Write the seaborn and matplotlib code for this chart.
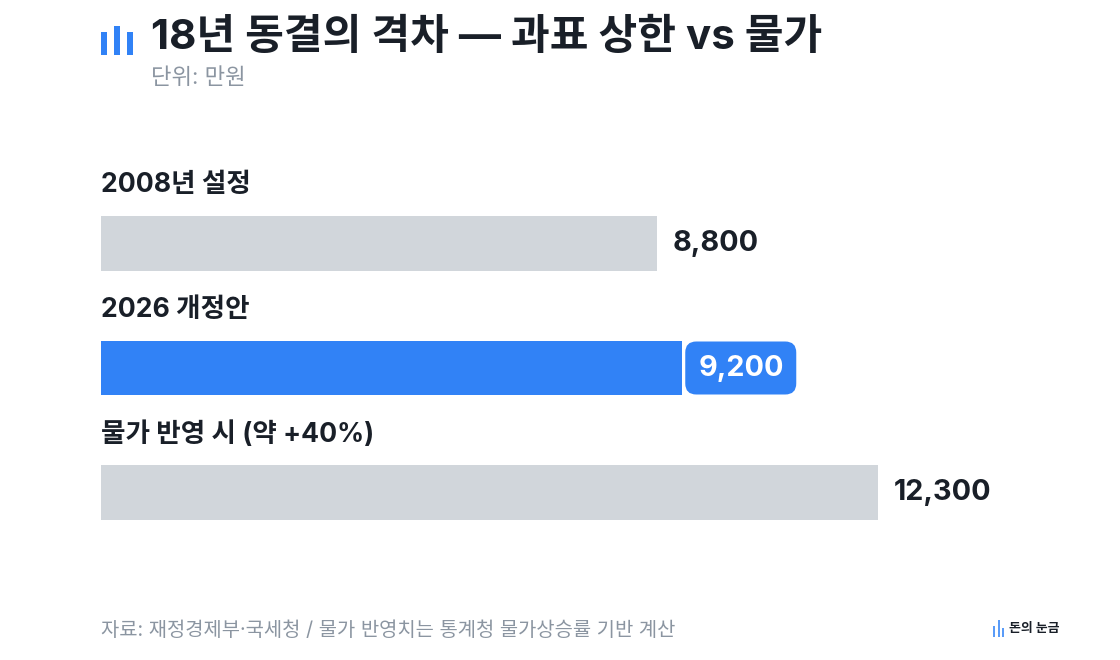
import pandas as pd
import matplotlib.pyplot as plt
import seaborn as sns
from matplotlib.patches import FancyBboxPatch, Rectangle
from matplotlib.transforms import IdentityTransform

labels = ['2008년 설정', '2026 개정안', '물가 반영 시 (약 +40%)']
values = [8800, 9200, 12300]
value_text = ['8,800', '9,200', '12,300']
bar_colors = ['#d1d6db', '#3182f6', '#d1d6db']

title = '18년 동결의 격차 — 과표 상한 vs 물가'
subtitle = '단위: 만원'
source = '자료: 재정경제부·국세청 / 물가 반영치는 통계청 물가상승률 기반 계산'
brand = '돈의 눈금'

INK = '#191f28'
GREY = '#8b95a1'
BLUE = '#3182f6'
W, H = 1120, 660

sns.set_theme(style='white')
plt.rcParams['font.family'] = ['Inter', 'Noto Sans CJK KR', 'DejaVu Sans']

df = pd.DataFrame({'label': labels, 'value': values})

fig = plt.figure(figsize=(W / 100, H / 100), dpi=100, facecolor='white')
# axes box in pixels: x 101..1019, y 181..555
ax = fig.add_axes([101 / W, 1 - 555 / H, 918 / W, 374 / H])
sns.barplot(data=df, y='label', x='value', hue='label', palette=bar_colors,
            legend=False, width=0.44, saturation=1, linewidth=0, ax=ax)
ax.set_xlim(0, 918 / 0.06318)
ax.axis('off')

pix = IdentityTransform()


def px(x, y):
    return x, H - y


def fig_text(x, y, s, **kw):
    fig.text(x / W, 1 - y / H, s, **kw)


# category labels above the bars, values to the right
for i, (name, val, txt) in enumerate(zip(labels, values, value_text)):
    ax.annotate(name, (0, i), xytext=(0, 58.5), textcoords='offset pixels',
                va='center', ha='left', fontsize=19.15, fontweight='bold', color=INK)
    if i == 1:
        x0, yc = ax.transData.transform((val, i))
        ax.add_patch(FancyBboxPatch((x0 + 13, yc - 16.5), 91, 33,
                                    boxstyle='round,pad=10,rounding_size=11',
                                    transform=pix, fc=BLUE, ec='none', zorder=3))
        ax.annotate(txt, (val, i), xytext=(16.5, 0), textcoords='offset pixels',
                    va='center', ha='left', fontsize=20.7, fontweight='bold',
                    color='white', zorder=4)
    else:
        ax.annotate(txt, (val, i), xytext=(16, 0), textcoords='offset pixels',
                    va='center', ha='left', fontsize=20.7, fontweight='bold', color=INK)

# header
for x, top in zip([101, 114, 127], [32, 26, 32]):
    fig.add_artist(Rectangle(px(x, 55), 6, 55 - top, transform=pix, fc=BLUE, ec='none'))
fig_text(151, 37, title, fontsize=30.3, fontweight='bold', color=INK, va='center')
fig_text(151, 78, subtitle, fontsize=16, color=GREY, va='center')

# footer
fig_text(101, 631, source, fontsize=14.3, color=GREY, va='center')
for x, top in zip([993, 997.5, 1002], [626, 620, 628]):
    fig.add_artist(Rectangle(px(x, 637), 2, 637 - top, transform=pix, fc='#5a9cf8', ec='none'))
fig_text(1009, 629, brand, fontsize=9.3, fontweight='bold', color=INK, va='center')

fig.savefig('out.png', dpi=100)
